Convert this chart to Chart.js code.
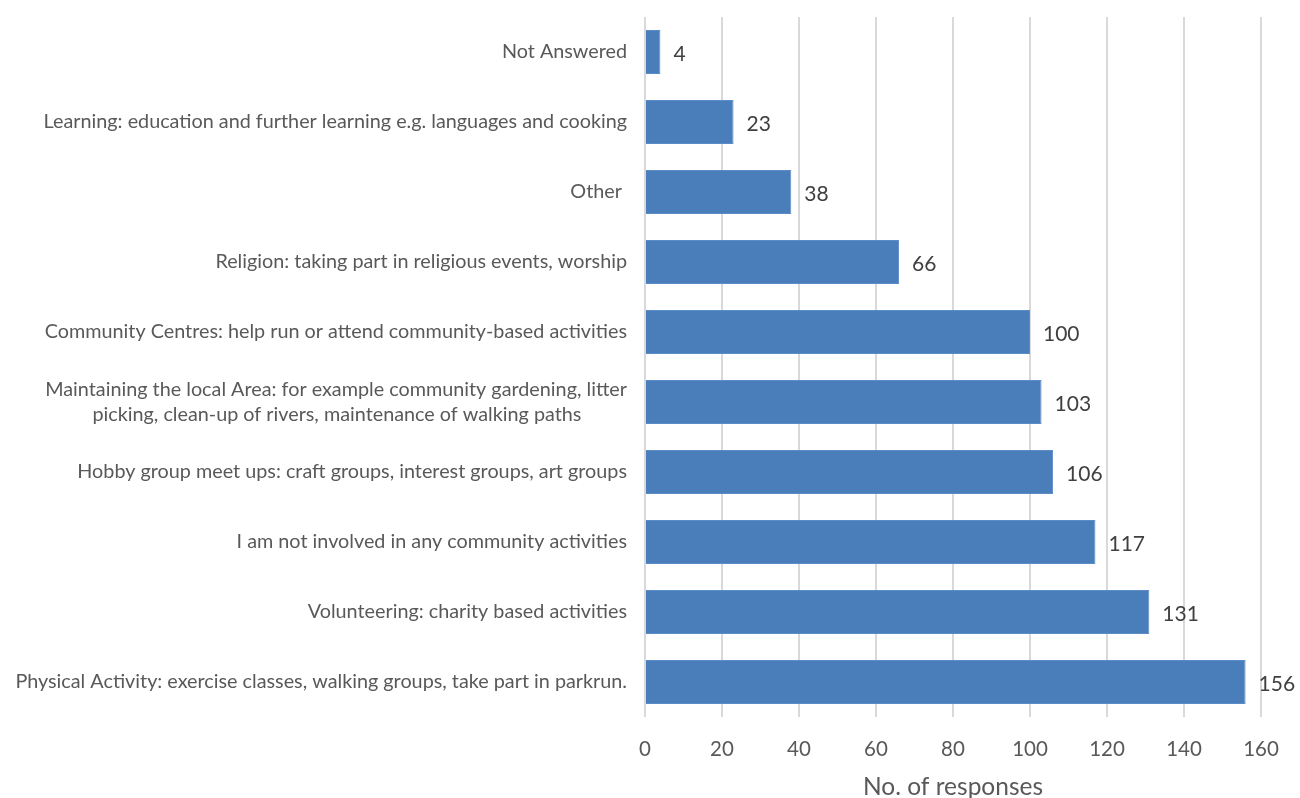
<!DOCTYPE html>
<html>
<head>
<meta charset="utf-8">
<script src="https://cdn.jsdelivr.net/npm/chart.js@4.4.0/dist/chart.umd.min.js"></script>
<style>
  html, body { margin: 0; padding: 0; background: #fff; }
  #wrap { width: 1300px; height: 798px; }
</style>
</head>
<body>
<div id="wrap"><canvas id="graphique"></canvas></div>
<script>
// Data, top to bottom
const categories = [
  "Not Answered",
  "Learning: education and further learning e.g. languages and cooking",
  "Other ",
  "Religion: taking part in religious events, worship",
  "Community Centres: help run or attend community-based activities",
  ["Maintaining the local Area: for example community gardening, litter",
   "picking, clean-up of rivers, maintenance of walking paths" + " ".repeat(9)],
  "Hobby group meet ups: craft groups, interest groups, art groups",
  "I am not involved in any community activities",
  "Volunteering: charity based activities",
  "Physical Activity: exercise classes, walking groups, take part in parkrun."
];
const responses = [4, 23, 38, 66, 100, 103, 106, 117, 131, 156];
const xTicks = [0, 20, 40, 60, 80, 100, 120, 140, 160];

const FONT = "Lato, 'Open Sans', sans-serif";

// value labels at the end of each bar
const barLabels = {
  id: 'barLabels',
  afterDatasetsDraw(chart) {
    const ctx = chart.ctx;
    const meta = chart.getDatasetMeta(0);
    ctx.save();
    ctx.font = "21px " + FONT;
    ctx.fillStyle = "#404040";
    ctx.textAlign = "left";
    ctx.textBaseline = "middle";
    meta.data.forEach((bar, i) => {
      ctx.fillText(String(responses[i]), bar.x + 13, bar.y + 2);
    });
    ctx.restore();
  }
};

const ctx = document.getElementById('graphique').getContext('2d');
new Chart(ctx, {
  type: 'bar',
  data: {
    labels: categories,
    datasets: [{
      data: responses,
      backgroundColor: '#4a7ebb',
      borderColor: '#5b8cc6',
      borderWidth: 1,
      categoryPercentage: 1,
      barPercentage: 0.63
    }]
  },
  plugins: [barLabels],
  options: {
    indexAxis: 'y',
    responsive: true,
    maintainAspectRatio: false,
    animation: false,
    layout: { padding: { top: 17, right: 39, bottom: -4, left: 0 } },
    plugins: {
      legend: { display: false },
      tooltip: { enabled: false }
    },
    scales: {
      x: {
        min: 0,
        max: 160,
        afterBuildTicks: s => { s.ticks = xTicks.map(v => ({ value: v })); },
        grid: { color: '#d9d9d9', lineWidth: 2, drawTicks: false },
        border: { display: false },
        ticks: { color: '#595959', font: { family: FONT, size: 20.5 }, padding: 20 },
        title: {
          display: true,
          text: 'No. of responses',
          color: '#595959',
          font: { family: FONT, size: 24.5 },
          padding: { top: -9, bottom: 0 }
        }
      },
      y: {
        afterFit: s => { s.width = 645; s.paddingTop = 0; s.paddingBottom = 0; },
        grid: { display: false, drawTicks: false },
        border: { display: false },
        ticks: {
          color: '#595959',
          font: { family: FONT, size: 19.8, lineHeight: 1.3 },
          padding: 18,
          autoSkip: false
        }
      }
    }
  }
});
</script>
</body>
</html>
